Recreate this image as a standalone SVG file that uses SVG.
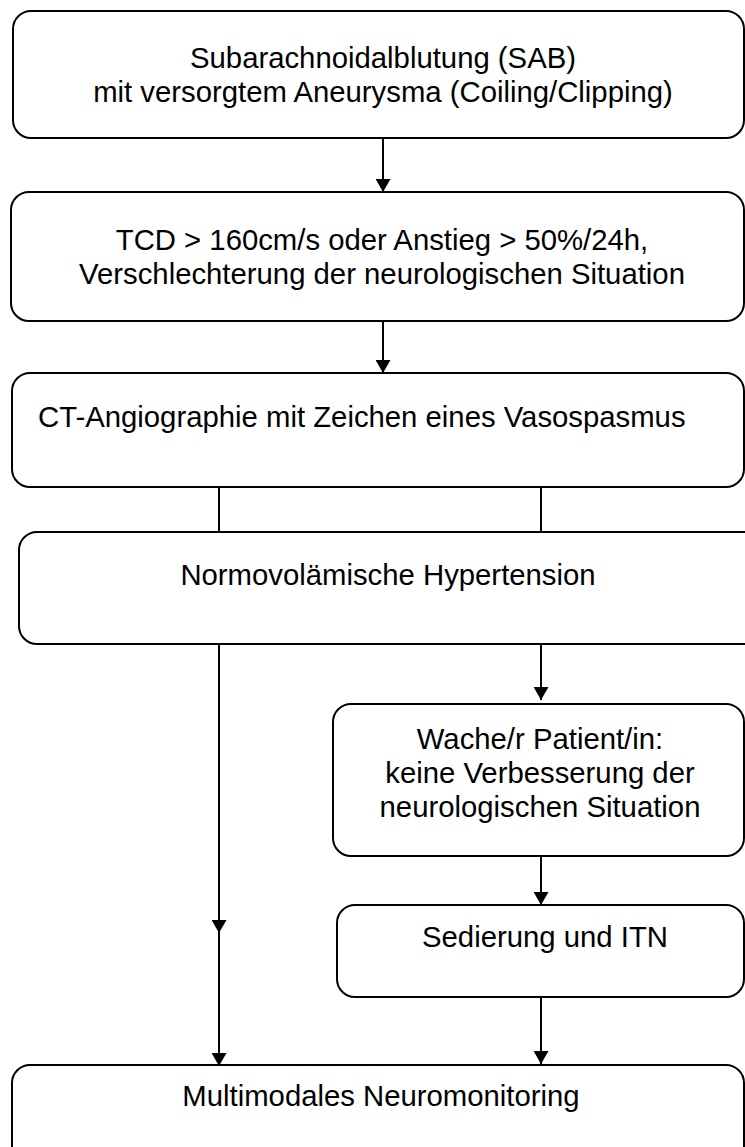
<svg xmlns="http://www.w3.org/2000/svg" width="745" height="1147" viewBox="0 0 745 1147">
<style>
.box{fill:#fff;stroke:#000;stroke-width:2}
.t{font-family:"Liberation Sans",Arial,sans-serif;font-size:29.3px;fill:#000}
.m{text-anchor:middle}
.c{fill:none;stroke:#000;stroke-width:2}
</style>
<defs>
<marker id="ah" markerUnits="userSpaceOnUse" markerWidth="14" markerHeight="15" refX="13" refY="7.5" orient="auto" viewBox="0 0 14 15">
<path d="M0,0 L13,7.5 L0,15 z" fill="#000"/>
</marker>
</defs>
<rect width="745" height="1147" fill="#fff"/>
<g id="connectors">
<path class="c" d="M383 138 V192" marker-end="url(#ah)"/>
<path class="c" d="M383 321 V373" marker-end="url(#ah)"/>
<path class="c" d="M219 487 V532"/>
<path class="c" d="M541 487 V532"/>
<path class="c" d="M219 644 V933 V1066" marker-mid="url(#ah)" marker-end="url(#ah)"/>
<path class="c" d="M541 644 V700" marker-end="url(#ah)"/>
<path class="c" d="M541 856 V905" marker-end="url(#ah)"/>
<path class="c" d="M541 997 V1064" marker-end="url(#ah)"/>
</g>
<g id="n1">
<rect class="box" x="13" y="11" width="731" height="127" rx="18"/>
<text class="t m" x="383" y="68">Subarachnoidalblutung (SAB)</text>
<text class="t m" x="383" y="102">mit versorgtem Aneurysma (Coiling/Clipping)</text>
</g>
<g id="n2">
<rect class="box" x="11" y="192" width="733" height="129" rx="18"/>
<text class="t m" x="382" y="250">TCD &gt; 160cm/s oder Anstieg &gt; 50%/24h,</text>
<text class="t m" x="382" y="284">Verschlechterung der neurologischen Situation</text>
</g>
<g id="n3">
<rect class="box" x="12" y="373" width="732" height="114" rx="18"/>
<text class="t" x="38" y="427">CT-Angiographie mit Zeichen eines Vasospasmus</text>
</g>
<g id="n4">
<rect class="box" x="19" y="532" width="750" height="112" rx="18"/>
<text class="t m" x="388" y="585">Normovolämische Hypertension</text>
</g>
<g id="n5">
<rect class="box" x="333" y="704" width="411" height="152" rx="18"/>
<text class="t m" x="540" y="749">Wache/r Patient/in:</text>
<text class="t m" x="540" y="783">keine Verbesserung der</text>
<text class="t m" x="540" y="817">neurologischen Situation</text>
</g>
<g id="n6">
<rect class="box" x="337" y="905" width="407" height="92" rx="18"/>
<text class="t m" x="545" y="947">Sedierung und ITN</text>
</g>
<g id="n7">
<rect class="box" x="12" y="1065" width="732" height="110" rx="18"/>
<text class="t m" x="381" y="1106">Multimodales Neuromonitoring</text>
</g>
</svg>
